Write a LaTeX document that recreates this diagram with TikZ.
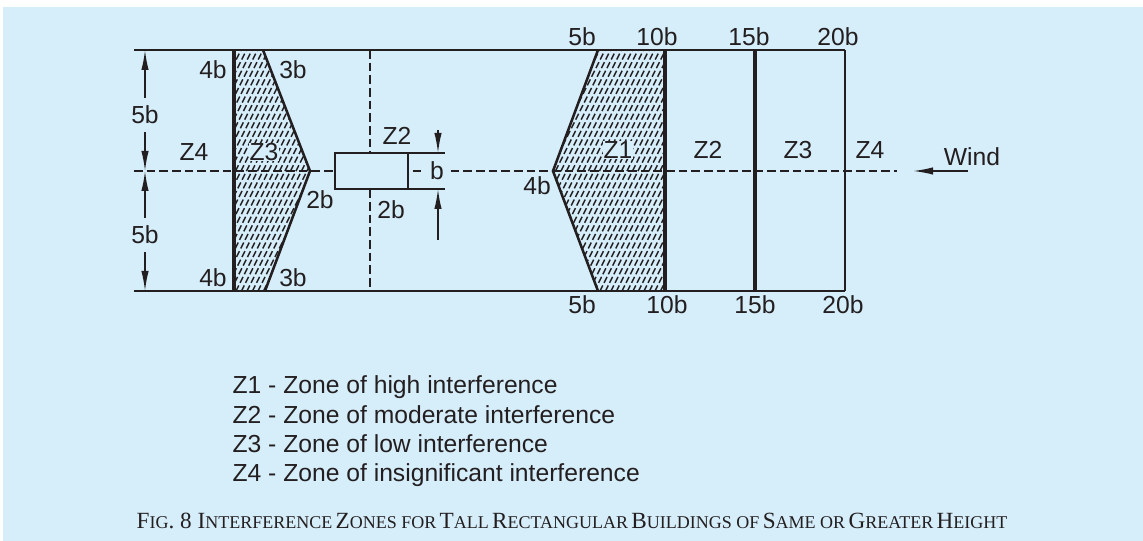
\documentclass[tikz,border=0pt]{standalone}
\usepackage{fontspec}
\setmainfont{Liberation Sans}
\newfontfamily\capfont{Liberation Serif}
\usetikzlibrary{arrows.meta}
\definecolor{panel}{RGB}{214,237,250}
\definecolor{ink}{RGB}{35,31,32}
% fake small caps for the caption
\newcommand{\capbig}[1]{{\fontsize{17.4}{17.4}\selectfont #1}}
\newcommand{\capsml}[1]{{\fontsize{13.5}{13.5}\selectfont #1}}
\begin{document}
\begin{tikzpicture}[x=0.75pt,y=-0.75pt,
    lbl/.style={font=\fontsize{18.5}{20}\selectfont, text=ink, inner sep=1pt},
    zonelbl/.style={lbl, fill=panel, inner sep=0.5pt},
    dimlbl/.style={lbl, inner xsep=1pt, inner ysep=6pt},
    dimline/.style={draw=ink, line width=1.1pt, -{Latex[length=15pt,width=5.5pt]}},
    extline/.style={draw=ink, line width=1.1pt},
    axisdash/.style={draw=ink, line width=1.1pt, dash pattern=on 6.5pt off 3pt},
    hatchline/.style={draw=ink, line width=1.1pt, dash pattern=on 5pt off 2.2pt},
    zoneedge/.style={draw=ink, line width=1.9pt, line join=miter},
    zonewall/.style={draw=ink, line width=2.3pt}]
    \useasboundingbox (0,0) rectangle (1143,541);
    \fill[white] (0,0) rectangle (1143,541);
    \fill[panel] (3,7) rectangle (1143,541);

    % hatched zones
    \begin{scope}
        \clip (234,50) -- (263,50) -- (310,171) -- (265,291) -- (234,291) -- cycle;
        \foreach \x in {105,110.5,...,315} \draw[hatchline] (\x,300) -- ++(130,-260);
    \end{scope}
    \begin{scope}
        \clip (598,50) -- (665,50) -- (665,291) -- (598,291) -- (553,171) -- cycle;
        \foreach \x in {425,430.5,...,670} \draw[hatchline] (\x,300) -- ++(130,-260);
    \end{scope}

    % axes
    \coordinate (axL) at (134,171);
    \coordinate (axR) at (897,171);
    \coordinate (axT) at (370,50);
    \coordinate (axB) at (370,291);
    \draw[axisdash] (axL) -- (axR);
    \draw[axisdash] (axT) -- (axB);

    % zone outlines
    \draw[ink, line width=1.5pt] (234,50) -- (845,50);
    \draw[ink, line width=1.5pt] (234,291) -- (845,291);
    \draw[zonewall] (234,50) -- (234,291);
    \draw[zoneedge] (263,50) -- (310,171) -- (265,291);
    \draw[zoneedge] (598,50) -- (553,171) -- (598,291);
    \draw[zonewall] (665,50) -- (665,291);
    \draw[zonewall] (755,50) -- (755,291);
    \draw[zoneedge] (845,50) -- (845,291);

    % building
    \node[draw=ink, line width=2pt, fill=panel, minimum width=54.75pt,
        minimum height=27pt, inner sep=0pt, outer sep=0pt] (bldg) at (371.5,171) {};
    \coordinate (extTop) at (445,153);
    \coordinate (extBot) at (445,189);
    \draw[extline] (bldg.north east) -- (extTop);
    \draw[extline] (bldg.south east) -- (extBot);
    \coordinate (bTopTail) at (438,130);
    \coordinate (bTopTip) at (438,153);
    \coordinate (bBotTail) at (438,240);
    \coordinate (bBotTip) at (438,189);
    \draw[dimline] (bTopTail) -- (bTopTip);
    \draw[dimline] (bBotTail) -- (bBotTip);
    \node[lbl, fill=panel, inner xsep=4pt] (bLbl) at (437,171) {b};

    % left dimension
    \coordinate (dimTop) at (145,50);
    \coordinate (dimMid) at (145,171);
    \coordinate (dimBot) at (145,291);
    \draw[extline] (134,50) -- (234,50);
    \draw[extline] (134,291) -- (234,291);
    \node[dimlbl] (fiveUp) at (145,115) {5b};
    \node[dimlbl] (fiveDn) at (145,235) {5b};
    \draw[dimline] (fiveUp.north) -- (dimTop);
    \draw[dimline] (fiveUp.south) -- (dimMid);
    \draw[dimline] (fiveDn.north) -- (dimMid);
    \draw[dimline] (fiveDn.south) -- (dimBot);

    % wind
    \node[lbl] (wind) at (972,157) {Wind};
    \coordinate (windTail) at (968,171);
    \coordinate (windTip) at (913,171);
    \draw[dimline] (windTail) -- (windTip);

    % zone labels
    \node[lbl] (zfourL) at (194,152) {Z4};
    \node[zonelbl] (zthreeL) at (264,152) {Z3};
    \node[lbl] (ztwoB) at (397,136) {Z2};
    \node[zonelbl] (zone) at (618,150) {Z1};
    \node[lbl] (ztwo) at (708,150) {Z2};
    \node[lbl] (zthree) at (798,150) {Z3};
    \node[lbl] (zfour) at (870,150) {Z4};

    % distance labels
    \node[lbl] (fourTL) at (213,70) {4b};
    \node[lbl] (threeT) at (293,70) {3b};
    \node[lbl] (fourBL) at (213,278) {4b};
    \node[lbl] (threeB) at (293,278) {3b};
    \node[lbl] (twoApex) at (320,200) {2b};
    \node[lbl] (twoBldg) at (391,210) {2b};
    \node[lbl] (fourApex) at (537,186) {4b};
    \node[lbl] (fiveT) at (582,37) {5b};
    \node[lbl] (tenT) at (657,37) {10b};
    \node[lbl] (fifteenT) at (749,37) {15b};
    \node[lbl] (twentyT) at (838,37) {20b};
    \node[lbl] (fiveB) at (582,305) {5b};
    \node[lbl] (tenB) at (667,305) {10b};
    \node[lbl] (fifteenB) at (755,305) {15b};
    \node[lbl] (twentyB) at (843,305) {20b};

    % legend
    \node[lbl, anchor=base west] (keyone) at (231,394) {Z1 - Zone of high interference};
    \node[lbl, anchor=base west] (keytwo) at (231,424) {Z2 - Zone of moderate interference};
    \node[lbl, anchor=base west] (keythree) at (231,453) {Z3 - Zone of low interference};
    \node[lbl, anchor=base west] (keyfour) at (231,482) {Z4 - Zone of insignificant interference};

    % caption
    \node[text=ink, inner sep=0pt, font=\capfont] (caption) at (572,521)
        {\capbig{F}\capsml{IG}\capbig{. 8 I}\capsml{NTERFERENCE} \capbig{Z}\capsml{ONES FOR}
         \capbig{T}\capsml{ALL} \capbig{R}\capsml{ECTANGULAR} \capbig{B}\capsml{UILDINGS OF}
         \capbig{S}\capsml{AME OR} \capbig{G}\capsml{REATER} \capbig{H}\capsml{EIGHT}};
\end{tikzpicture}
\end{document}
